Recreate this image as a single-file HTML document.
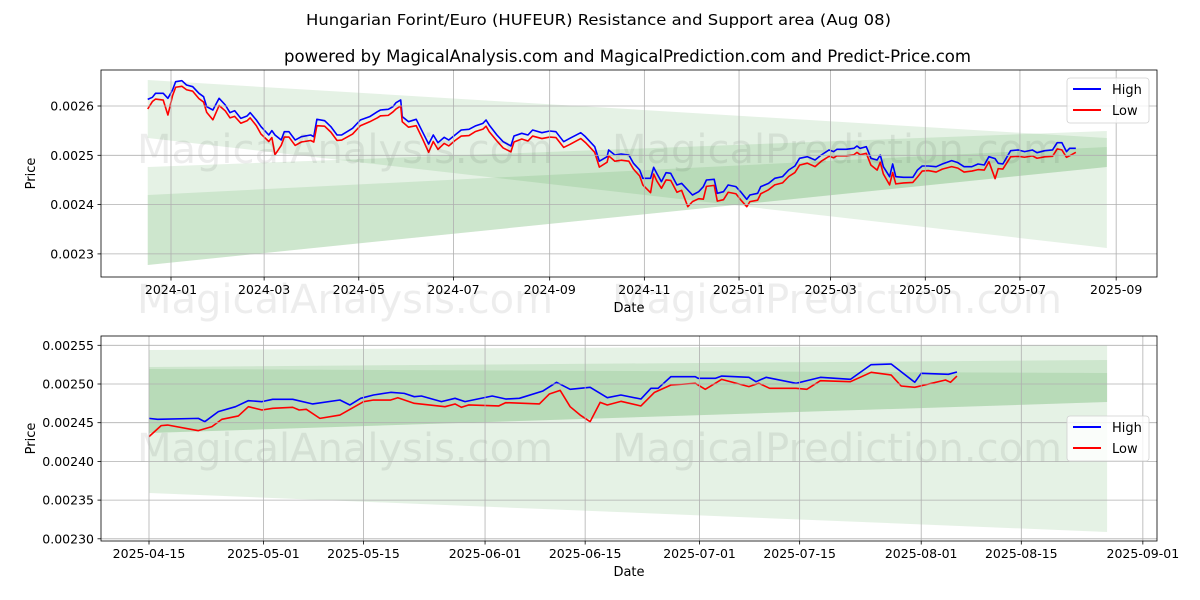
<!DOCTYPE html>
<html><head><meta charset="utf-8"><style>
html,body{margin:0;padding:0;background:#fff;width:1200px;height:600px;overflow:hidden}
svg{display:block;font-family:"DejaVu Sans","Liberation Sans",sans-serif}
</style></head><body>
<svg id="chart" width="1200" height="600" viewBox="0 0 1200 600" xmlns="http://www.w3.org/2000/svg">
<rect width="1200" height="600" fill="#fff"/>
<text x="598.5" y="25" text-anchor="middle" font-size="15" textLength="585" lengthAdjust="spacingAndGlyphs">Hungarian Forint/Euro (HUFEUR) Resistance and Support area (Aug 08)</text>
<text x="627.5" y="62" text-anchor="middle" font-size="16.5" textLength="687" lengthAdjust="spacingAndGlyphs">powered by MagicalAnalysis.com and MagicalPrediction.com and Predict-Price.com</text>
<g id="top"></g>
<g id="bot"></g>
</svg>
<script>
// ---------- top chart data (days since 2024-01-01) ----------
const topDays = [-15,-12,-10,-5,-2,1,3,7,10,14,
18,21,23,27,31,35,38,41,45,49,
51,55,58,63,65,67,71,73,76,80,
84,90,92,94,99,103,107,110,117,122,
128,133,135,140,143,145,148,149,153,158,
162,166,169,172,176,179,183,187,192,196,
201,203,205,210,214,219,221,226,230,233,
239,244,248,253,257,264,267,273,276,281,
282,286,290,295,298,302,304,309,311,313,
316,319,322,326,329,333,336,340,343,345,
350,352,356,359,364,367,371,373,378,380,
385,389,394,398,402,405,410,415,419,424,
427,429,435,440,442,444,448,451,455,457,
459,463,465,467,472,478,481,484,488,493,
497,503,507,511,516,520,524,527,531,533,
536,541,546,550,555,558,563,568,571,574,
577,579,583];
const topHigh = [0.0026135,0.0026176,0.0026257,0.0026257,0.0026156,0.0026325,0.0026494,0.0026514,0.0026426,0.0026392,
0.0026257,0.0026189,0.0025986,0.0025919,0.0026156,0.0026020,0.0025865,0.0025905,0.0025750,0.0025797,
0.0025865,0.0025716,0.0025581,0.0025412,0.0025500,0.0025412,0.0025310,0.0025479,0.0025479,0.0025310,
0.0025378,0.0025412,0.0025378,0.0025730,0.0025702,0.0025581,0.0025412,0.0025412,0.0025547,0.0025716,
0.0025784,0.0025885,0.0025919,0.0025932,0.0025986,0.0026068,0.0026122,0.0025784,0.0025682,0.0025730,
0.0025479,0.0025229,0.0025412,0.0025256,0.0025364,0.0025310,0.0025412,0.0025513,0.0025527,0.0025594,
0.0025648,0.0025716,0.0025615,0.0025412,0.0025276,0.0025189,0.0025392,0.0025446,0.0025412,0.0025513,
0.0025459,0.0025493,0.0025479,0.0025276,0.0025344,0.0025459,0.0025378,0.0025175,0.0024880,0.0024972,
0.0025108,0.0025006,0.0025026,0.0025006,0.0024837,0.0024702,0.0024533,0.0024533,0.0024756,0.0024634,
0.0024465,0.0024648,0.0024634,0.0024398,0.0024431,0.0024296,0.0024195,0.0024262,0.0024364,0.0024499,
0.0024513,0.0024229,0.0024262,0.0024398,0.0024364,0.0024262,0.0024107,0.0024195,0.0024229,0.0024364,
0.0024431,0.0024533,0.0024567,0.0024702,0.0024783,0.0024939,0.0024972,0.0024905,0.0025006,0.0025108,
0.0025074,0.0025121,0.0025121,0.0025141,0.0025189,0.0025141,0.0025175,0.0024939,0.0024905,0.0025006,
0.0024769,0.0024567,0.0024824,0.0024567,0.0024553,0.0024553,0.0024702,0.0024783,0.0024783,0.0024769,
0.0024824,0.0024891,0.0024851,0.0024769,0.0024769,0.0024824,0.0024803,0.0024972,0.0024932,0.0024837,
0.0024824,0.0025094,0.0025108,0.0025074,0.0025108,0.0025053,0.0025094,0.0025108,0.0025256,0.0025256,
0.0025074,0.0025141,0.0025141];
const topLow = [0.0025939,0.0026090,0.0026140,0.0026120,0.0025817,0.0026210,0.0026380,0.0026400,0.0026330,0.0026300,
0.0026150,0.0026080,0.0025870,0.0025720,0.0026010,0.0025900,0.0025760,0.0025790,0.0025650,0.0025700,
0.0025760,0.0025600,0.0025430,0.0025280,0.0025360,0.0025010,0.0025200,0.0025370,0.0025370,0.0025200,
0.0025270,0.0025300,0.0025270,0.0025600,0.0025590,0.0025470,0.0025300,0.0025310,0.0025430,0.0025600,
0.0025680,0.0025760,0.0025800,0.0025810,0.0025880,0.0025940,0.0026000,0.0025680,0.0025570,0.0025600,
0.0025340,0.0025060,0.0025280,0.0025120,0.0025240,0.0025190,0.0025300,0.0025390,0.0025400,0.0025480,
0.0025530,0.0025590,0.0025480,0.0025290,0.0025150,0.0025070,0.0025270,0.0025330,0.0025290,0.0025390,
0.0025340,0.0025370,0.0025360,0.0025160,0.0025220,0.0025340,0.0025260,0.0025060,0.0024760,0.0024860,
0.0024990,0.0024880,0.0024900,0.0024880,0.0024720,0.0024580,0.0024400,0.0024242,0.0024620,0.0024480,
0.0024330,0.0024500,0.0024490,0.0024250,0.0024290,0.0023958,0.0024060,0.0024120,0.0024110,0.0024370,
0.0024390,0.0024070,0.0024100,0.0024250,0.0024220,0.0024100,0.0023958,0.0024060,0.0024090,0.0024220,
0.0024300,0.0024400,0.0024440,0.0024570,0.0024650,0.0024800,0.0024840,0.0024770,0.0024880,0.0024980,
0.0024950,0.0024990,0.0024990,0.0025010,0.0025060,0.0025010,0.0025040,0.0024800,0.0024700,0.0024860,
0.0024620,0.0024400,0.0024650,0.0024420,0.0024440,0.0024450,0.0024560,0.0024680,0.0024690,0.0024660,
0.0024720,0.0024770,0.0024740,0.0024660,0.0024680,0.0024710,0.0024700,0.0024870,0.0024526,0.0024730,
0.0024720,0.0024970,0.0024980,0.0024960,0.0024990,0.0024940,0.0024970,0.0024980,0.0025130,0.0025110,
0.0024960,0.0024990,0.0025060];
const topBandDays = [-15, 603];
const topResUpper = [0.0026527, 0.0025351];
const topResLower = [0.0025351, 0.0023120];
const topSupUpper = [0.0024763, 0.0025493];
const topSupLower = [0.0022775, 0.0024763];
const topSupInnerUpper = [0.0024195, 0.0025168];
const topSupInnerLower = [0.0022775, 0.0024763];
const topXTickDays = [0,60,121,182,244,305,366,425,486,547,609];
const topXTickLabels = ["2024-01","2024-03","2024-05","2024-07","2024-09","2024-11","2025-01","2025-03","2025-05","2025-07","2025-09"];
const topYTicks = [0.0023,0.0024,0.0025,0.0026];
const topYTickLabels = ["0.0023","0.0024","0.0025","0.0026"];

// ---------- bottom chart data (days since 2025-04-15) ----------
const botHighDays = [0,1.2,6.9,7.8,9.7,12.1,13.9,15.8,17.3,20.1,22.9,26.7,28.1,29.6,31.4,33.8,35.7,37.1,38.1,40.9,42.8,44.2,48,49.9,51.8,55.1,57,58.9,61.7,64.1,66,68.8,70.2,71.2,73,76.4,76.8,79.2,80.1,83.9,84.9,86.3,90.5,93.9,98.1,101,103.8,107.1,108,111.8,113];
const botHigh = [0.0024556,0.0024544,0.0024556,0.0024513,0.0024643,0.0024707,0.0024785,0.0024772,0.0024802,0.0024802,0.0024742,0.0024793,0.0024729,0.0024815,0.0024858,0.0024892,0.0024879,0.0024836,0.0024845,0.0024772,0.0024815,0.0024772,0.0024845,0.0024806,0.0024815,0.0024910,0.0025022,0.0024931,0.0024957,0.0024823,0.0024858,0.0024806,0.0024944,0.0024944,0.0025095,0.0025095,0.0025073,0.0025073,0.0025103,0.0025086,0.0025030,0.0025086,0.0025009,0.0025086,0.0025060,0.0025250,0.0025258,0.0025022,0.0025138,0.0025125,0.0025155];
const botLowDays = [0,1.7,2.6,6.9,8.8,10.2,12.5,13.9,15.8,17.3,20.1,21,22,23.9,26.7,30,31.4,33.8,34.8,37.1,41.4,42.8,43.7,44.7,48.9,49.9,54.6,56,57.5,58.9,60.3,61.7,63.1,64.1,66,68.8,70.7,73,76.4,77.8,80.1,83.9,85.3,86.8,90.5,92,93.9,98.1,101,103.8,105.2,107.1,111.4,112.1,113];
const botLow = [0.0024320,0.0024462,0.0024470,0.0024397,0.0024449,0.0024544,0.0024587,0.0024707,0.0024664,0.0024686,0.0024699,0.0024664,0.0024673,0.0024556,0.0024599,0.0024772,0.0024793,0.0024793,0.0024823,0.0024750,0.0024707,0.0024742,0.0024699,0.0024729,0.0024716,0.0024759,0.0024742,0.0024871,0.0024918,0.0024707,0.0024599,0.0024513,0.0024763,0.0024729,0.0024776,0.0024716,0.0024892,0.0024987,0.0025009,0.0024931,0.0025060,0.0024966,0.0025009,0.0024944,0.0024944,0.0024931,0.0025043,0.0025030,0.0025151,0.0025116,0.0024974,0.0024957,0.0025052,0.0025022,0.0025103];
const botBandDays = [0, 134];
const botOuterUpper = [0.0025439, 0.0025504];
const botOuterLower = [0.0023592, 0.0023088];
const botMidUpper = [0.0025220, 0.0025310];
const botMidLower = [0.0024367, 0.0024767];
const botInnerUpper = [0.0025194, 0.0025142];
const botInnerLower = [0.0024367, 0.0024767];
const botXTickDays = [0,16,30,47,61,77,91,108,122,139];
const botXTickLabels = ["2025-04-15","2025-05-01","2025-05-15","2025-06-01","2025-06-15","2025-07-01","2025-07-15","2025-08-01","2025-08-15","2025-09-01"];
const botYTicks = [0.0023,0.00235,0.0024,0.00245,0.0025,0.00255];
const botYTickLabels = ["0.00230","0.00235","0.00240","0.00245","0.00250","0.00255"];

const NS = "http://www.w3.org/2000/svg";
function mk(tag, attrs, parent, text){
  const e = document.createElementNS(NS, tag);
  for (const k in attrs) e.setAttribute(k, attrs[k]);
  if (text !== undefined) e.textContent = text;
  parent.appendChild(e);
  return e;
}

function drawPanel(g, cfg){
  const {L,R,T,B,xs,ys} = cfg;
  const clipId = cfg.id + "-clip";
  const defs = mk("defs", {}, g);
  const cp = mk("clipPath", {id: clipId}, defs);
  mk("rect", {x:L, y:T, width:R-L, height:B-T}, cp);
  const plot = mk("g", {"clip-path":"url(#"+clipId+")"}, g);
  
  

  cfg.bands.forEach(b => {
    const d = b.days;
    const pts = [[xs(d[0]),ys(b.up[0])],[xs(d[1]),ys(b.up[1])],[xs(d[1]),ys(b.lo[1])],[xs(d[0]),ys(b.lo[0])]];
    const p = mk("polygon", {points: pts.map(p=>p.join(",")).join(" "), fill:"#008000", "fill-opacity": b.op}, plot);
    
    
  });

  cfg.marks.forEach(m => {
    const t = mk("text", {x:m[0], y:m[1], "font-size":40, fill:"#000", "fill-opacity":0.07, "text-anchor":"middle"}, g, m[2]);
    
    
  });

  cfg.xTicks.forEach((dv,i) => {
    const x = xs(dv);
    const gl = mk("line", {x1:x, x2:x, y1:T, y2:B, stroke:"#b0b0b0", "stroke-width":0.8}, g);
    
    
    mk("line", {x1:x, x2:x, y1:B, y2:B+3.5, stroke:"#000", "stroke-width":0.8}, g);
    const t = mk("text", {x:x, y:B+17, "text-anchor":"middle", "font-size":12.5}, g, cfg.xLabels[i]);
    
    
  });
  cfg.yTicks.forEach((v,i) => {
    const y = ys(v);
    const gl = mk("line", {x1:L, x2:R, y1:y, y2:y, stroke:"#b0b0b0", "stroke-width":0.8}, g);
    
    
    mk("line", {x1:L-3.5, x2:L, y1:y, y2:y, stroke:"#000", "stroke-width":0.8}, g);
    const t = mk("text", {x:L-7, y:y+4.5, "text-anchor":"end", "font-size":12.5}, g, cfg.yLabels[i]);
    
    
  });

  cfg.series.forEach(s => {
    const pts = s.days.map((d,i) => xs(d).toFixed(2)+","+ys(s.vals[i]).toFixed(2)).join(" ");
    const pl = mk("polyline", {points: pts, fill:"none", stroke:s.color, "stroke-width":1.6, "stroke-linejoin":"round"}, plot);
    
    
  });

  const sp = mk("rect", {x:L, y:T, width:R-L, height:B-T, fill:"none", stroke:"#000", "stroke-width":0.8}, g);
  
  

  const xt = mk("text", {x:(L+R)/2, y:B+35, "text-anchor":"middle", "font-size":13}, g, "Date");
  
  
  const cy = (T+B)/2;
  const yt = mk("text", {x:35, y:cy, "text-anchor":"middle", "font-size":13, transform:"rotate(-90 35 "+cy+")"}, g, "Price");
  
  

  const lg = mk("g", {}, g);
  
  
  const lx = cfg.legend[0], ly = cfg.legend[1];
  mk("rect", {x:lx, y:ly, width:82, height:45, rx:3, fill:"#fff", "fill-opacity":0.8, stroke:"#d0d0d0", "stroke-width":0.8}, lg);
  [["High","#0000ff"],["Low","#ff0000"]].forEach((e,i) => {
    const yy = ly + 11 + i*21;
    const le = mk("g", {}, lg);
    
    
    mk("line", {x1:lx+6, x2:lx+34, y1:yy, y2:yy, stroke:e[1], "stroke-width":2}, le);
    mk("text", {x:lx+45, y:yy+5, "font-size":13}, le, e[0]);
  });
}

(function(){
  const L=101,R=1157,T=70,B=277;
  const xs = d => 171 + d*1.552;
  const ys = v => 106 + (0.0026 - v)*493000;
  drawPanel(document.getElementById("top"), {
    id:"top", L,R,T,B,xs,ys,
    bands:[
      {days:topBandDays, up:topResUpper, lo:topResLower, op:0.1, name:"resistance-band"},
      {days:topBandDays, up:topSupUpper, lo:topSupLower, op:0.1, name:"support-band-outer"},
      {days:topBandDays, up:topSupInnerUpper, lo:topSupInnerLower, op:0.1, name:"support-band-inner"}
    ],
    marks:[[345,163,"MagicalAnalysis.com"],[837,163,"MagicalPrediction.com"],[345,313,"MagicalAnalysis.com"],[837,313,"MagicalPrediction.com"]],
    xTicks:topXTickDays, xLabels:topXTickLabels, yTicks:topYTicks, yLabels:topYTickLabels,
    series:[
      {days:topDays, vals:topHigh, color:"#0000ff", name:"high-line"},
      {days:topDays, vals:topLow, color:"#ff0000", name:"low-line"}
    ],
    legend:[1067,78]
  });
})();

(function(){
  const L=101,R=1157,T=336,B=541;
  const xs = d => 149 + d*7.15;
  const ys = v => 384 + (0.0025 - v)*774000;
  drawPanel(document.getElementById("bot"), {
    id:"bottom", L,R,T,B,xs,ys,
    bands:[
      {days:botBandDays, up:botOuterUpper, lo:botOuterLower, op:0.1, name:"band-outer"},
      {days:botBandDays, up:botMidUpper, lo:botMidLower, op:0.1, name:"band-middle"},
      {days:botBandDays, up:botInnerUpper, lo:botInnerLower, op:0.1, name:"band-inner"}
    ],
    marks:[[345,462,"MagicalAnalysis.com"],[837,462,"MagicalPrediction.com"]],
    xTicks:botXTickDays, xLabels:botXTickLabels, yTicks:botYTicks, yLabels:botYTickLabels,
    series:[
      {days:botHighDays, vals:botHigh, color:"#0000ff", name:"high-line-zoomed"},
      {days:botLowDays, vals:botLow, color:"#ff0000", name:"low-line-zoomed"}
    ],
    legend:[1067,416]
  });
})();
</script>
</body></html>
